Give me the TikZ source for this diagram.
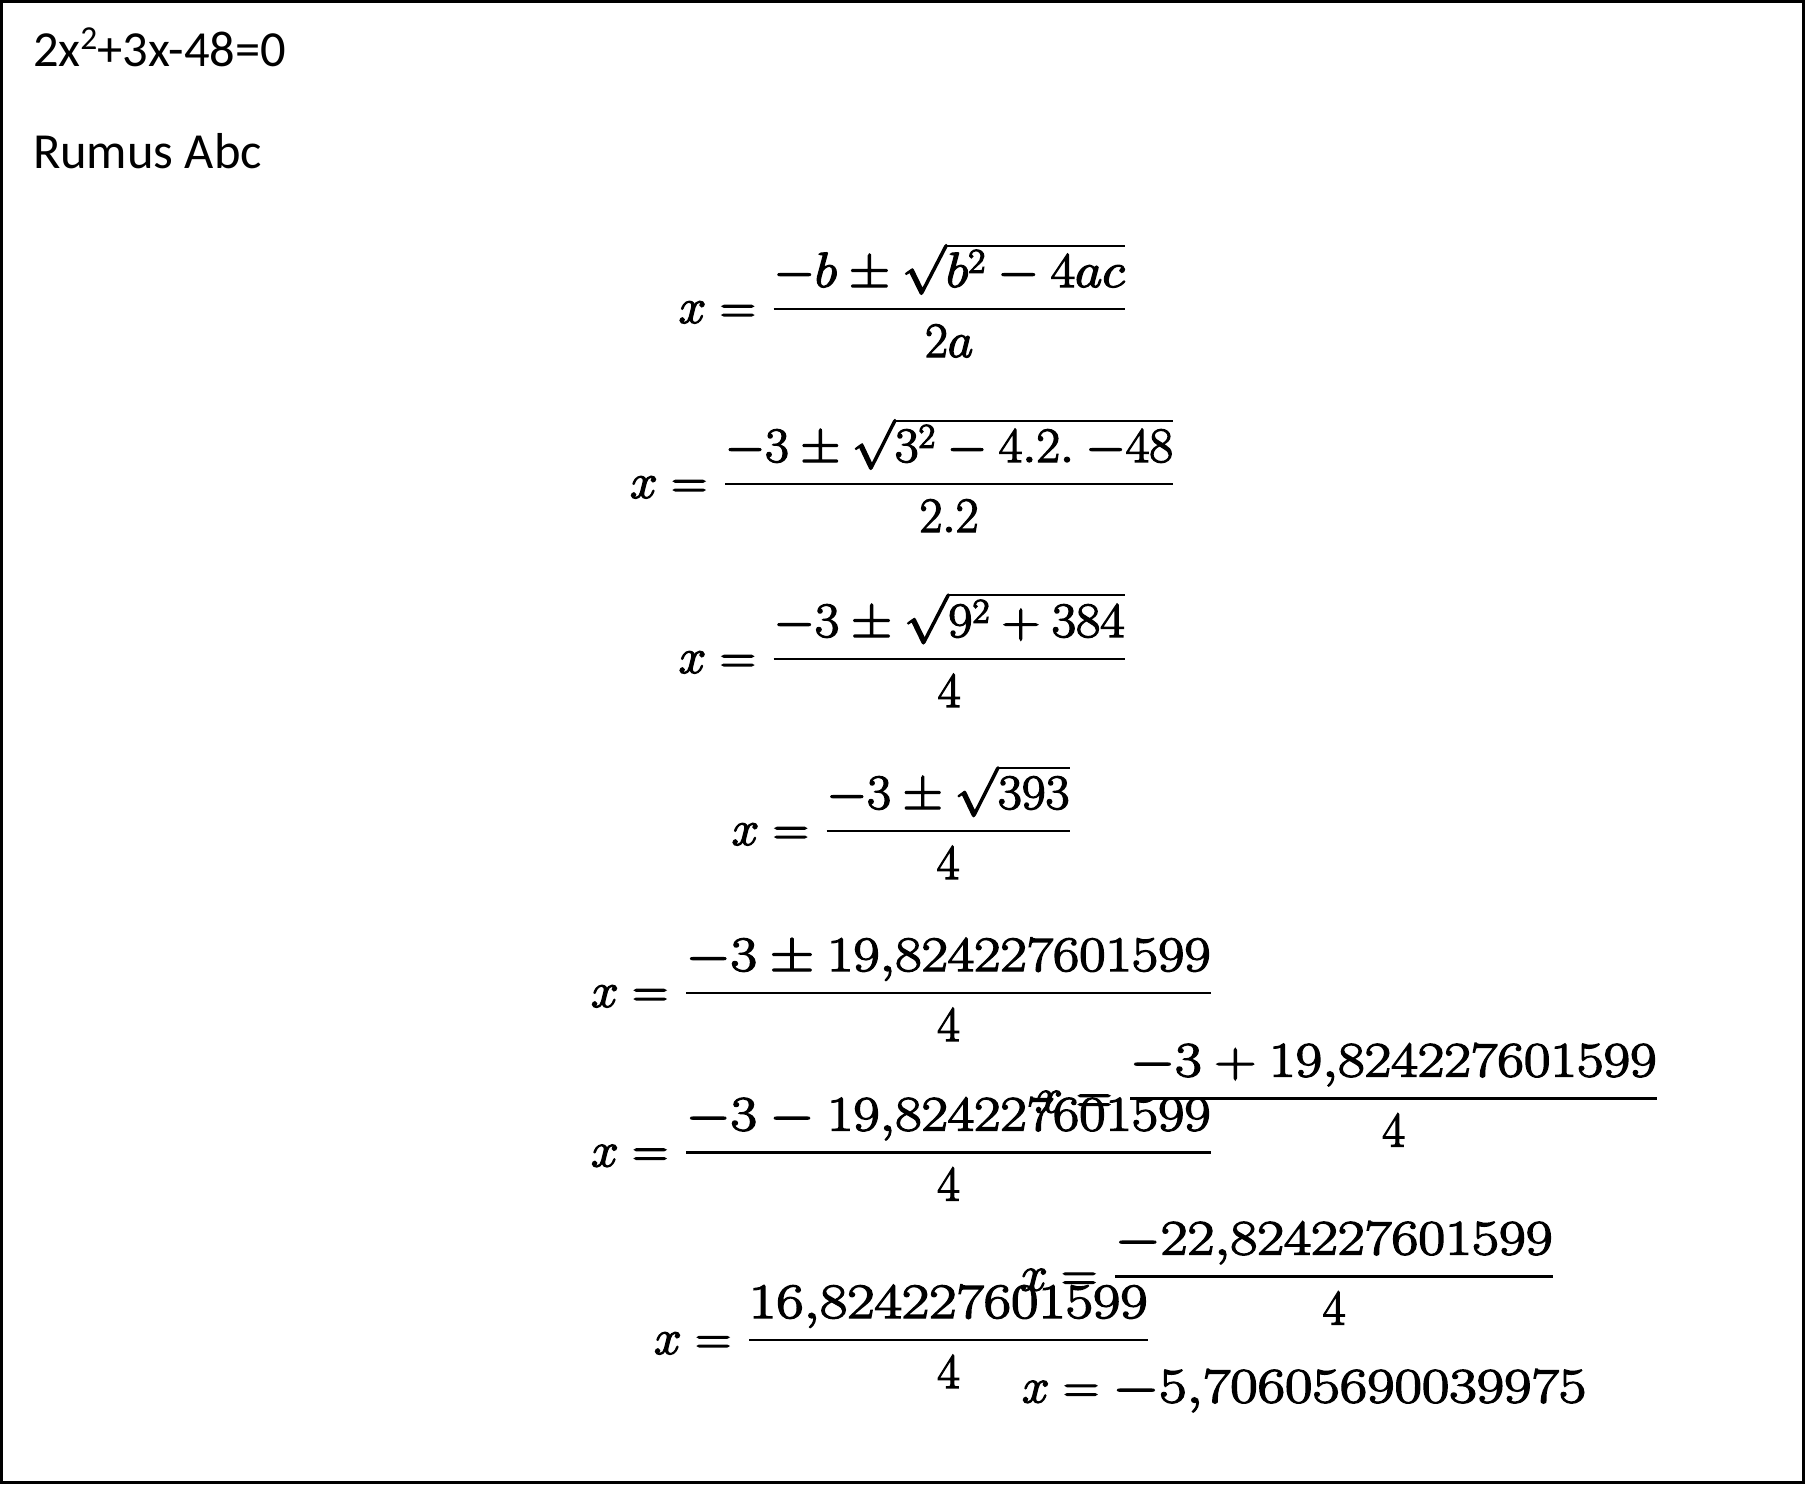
\RequirePackage{fix-cm}
\documentclass[tikz,border=0pt]{standalone}
\usepackage{fontspec}
\usepackage{graphicx}
\newfontfamily\calib{Carlito}
% slightly heavier glyphs (fill + stroke), closer to the reference's math font
\newcommand\heavy[1]{\special{pdf:code 2 Tr 1.3 w}#1\special{pdf:code 0 Tr 0.4 w}}
\tikzset{
  eqtext/.style={inner sep=0pt, outer sep=0pt, font=\fontsize{49.5}{59.4}\selectfont},
  fracbar/.style={line width=2.8pt},
  plaintext/.style={inner sep=0pt, outer sep=0pt, anchor=base west, font=\calib\fontsize{50.5}{60}\selectfont},
  frame/.style={line width=3pt}
}
% #1 name, #2 bar left, #3 bar right, #4 bar y, #5 numerator, #6 denominator
\newcommand\eqfrac[6]{%
  \coordinate (#1L) at (#2,#4);
  \coordinate (#1R) at (#3,#4);
  \draw[fracbar] (#1L) -- (#1R);
  \node[eqtext,anchor=base] (#1num) at ({(#2+#3)/2},{#4-22}) {\heavy{\resizebox{\dimexpr#3pt-#2pt\relax}{\height}{$#5$}}};
  \node[eqtext,anchor=base] (#1den) at ({(#2+#3)/2},{#4+48}) {\heavy{$#6$}};
  \node[eqtext,anchor=base east] (#1x) at ({#2-18},{#4+14}) {\heavy{$x=$}};
}
\begin{document}
\begin{tikzpicture}[x=1pt,y=-1pt]
\useasboundingbox (0,0) rectangle (1805,1484);
\draw[frame] (1.5,1.5) rectangle (1803.5,1482.5);

\node[plaintext] (equation) at (33,66.7) {2x\raisebox{17pt}{\fontsize{33.5}{33.5}\selectfont 2}+3x-48=0};
\node[plaintext] (rumus) at (33,168.5) {Rumus Abc};

\eqfrac{e1}{773.6}{1124.7}{309}{-b\pm\sqrt{b^2-4ac}}{2a}
\eqfrac{e2}{725}{1173}{484}{-3\pm\sqrt{3^2-4.2.\:{-48}}}{2.2}
\eqfrac{e3}{773.6}{1124.7}{659}{-3\pm\sqrt{9^2+384}}{4}
\eqfrac{e4}{826.6}{1069.5}{831}{-3\pm\sqrt{393}}{4}
\eqfrac{e5}{686}{1211}{993}{-3\pm 19{,}824227601599}{4}
\eqfrac{e6}{686}{1211}{1152.5}{-3-19{,}824227601599}{4}
\eqfrac{e7}{1130}{1657}{1098.5}{-3+19{,}824227601599}{4}
\eqfrac{e8}{749}{1148}{1340}{16{,}824227601599}{4}
\eqfrac{e9}{1115}{1553}{1276.5}{-22{,}824227601599}{4}

\node[eqtext,anchor=base west] (result) at (1022,1402.5) {\heavy{$x=\resizebox{474pt}{\height}{$-5{,}70605690039975$}$}};
\end{tikzpicture}
\end{document}
